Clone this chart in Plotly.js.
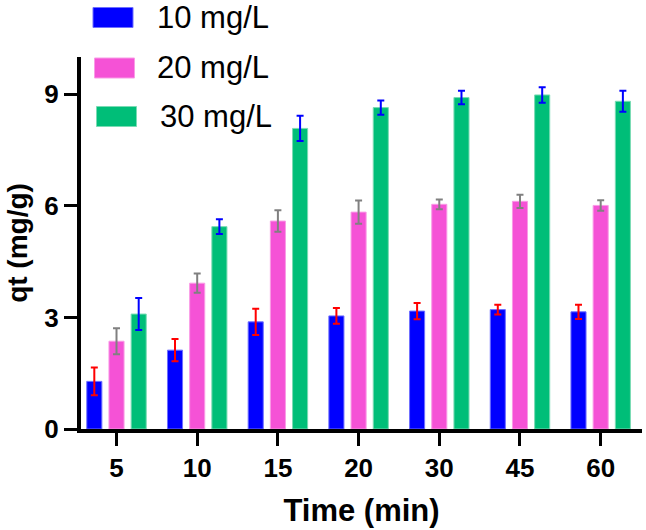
<!DOCTYPE html>
<html>
<head>
<meta charset="utf-8">
<script src="https://cdn.plot.ly/plotly-3.0.1.min.js"></script>
<style>html,body{margin:0;padding:0;background:#fff}#chart{width:646px;height:530px}</style>
</head>
<body>
<div id="chart"></div>
<script>
// ---- data ----
var categories = ["5", "10", "15", "20", "30", "45", "60"];
var seriesNames = ["10 mg/L", "20 mg/L", "30 mg/L"];
var values10 = [1.28, 2.12, 2.88, 3.04, 3.17, 3.21, 3.15];
var errors10 = [0.37, 0.30, 0.35, 0.21, 0.22, 0.13, 0.19];
var values20 = [2.36, 3.92, 5.59, 5.83, 6.04, 6.12, 6.01];
var errors20 = [0.35, 0.26, 0.29, 0.31, 0.13, 0.18, 0.14];
var values30 = [3.09, 5.44, 8.08, 8.64, 8.91, 8.98, 8.81];
var errors30 = [0.43, 0.20, 0.34, 0.19, 0.18, 0.21, 0.28];
var yTickVals = [0, 3, 6, 9];

// ---- style ----
var barColors = ["#0000FF", "#F552D6", "#00BE78"];
var barEdge = ["#6F6FFF", "#F99BE6", "#7ADBB4"];
var errColors = ["#FF0000", "#808080", "#0000FF"];
var FONT = "Arial, 'Liberation Sans', sans-serif";

var allVals = [values10, values20, values30];
var allErrs = [errors10, errors20, errors30];

var traces = allVals.map(function (v, i) {
  return {
    type: "bar",
    name: seriesNames[i],
    x: categories,
    y: v,
    marker: { color: barColors[i], line: { color: barEdge[i], width: 1 } },
    error_y: { type: "data", array: allErrs[i], visible: true, color: errColors[i], thickness: 2, width: 3.5 },
    showlegend: false
  };
});

// plot area in pixels
var L = 81, R = 4, T = 57, B = 101, Wd = 646, Ht = 530;
var PW = Wd - L - R, PH = Ht - T - B;
function px(p) { return (p - L) / PW; }
function py(p) { return (Ht - B - p) / PH; }

// legend drawn as boxes + labels
var legendRows = [
  { x0: 93, x1: 133, y0: 7.5, y1: 27.5, tx: 155 },
  { x0: 94.5, x1: 134.5, y0: 58, y1: 78, tx: 155 },
  { x0: 96.5, x1: 136.5, y0: 106.5, y1: 126.5, tx: 158 }
];
var shapes = [], annotations = [];
legendRows.forEach(function (r, i) {
  shapes.push({
    type: "rect", xref: "paper", yref: "paper",
    x0: px(r.x0), x1: px(r.x1), y0: py(r.y1), y1: py(r.y0),
    fillcolor: barColors[i], line: { color: barEdge[i], width: 1 }, layer: "above"
  });
  annotations.push({
    xref: "paper", yref: "paper", x: px(r.tx), y: py((r.y0 + r.y1) / 2),
    xanchor: "left", yanchor: "middle", showarrow: false,
    text: seriesNames[i], font: { family: FONT, size: 31, color: "#000" }
  });
});

var layout = {
  width: Wd, height: Ht,
  margin: { l: L, r: R, t: T, b: B, pad: 0 },
  paper_bgcolor: "#fff", plot_bgcolor: "#fff",
  barmode: "group", bargap: 0.175, bargroupgap: 0.32,
  showlegend: false,
  font: { family: FONT, color: "#000" },
  xaxis: {
    type: "category",
    range: [-0.44, 6.512],
    showline: true, linecolor: "#000", linewidth: 4,
    ticks: "outside", ticklen: 13, tickwidth: 3, tickcolor: "#000",
    showgrid: false, zeroline: false,
    tickfont: { family: FONT, size: 26, weight: "bold", color: "#000" },
    title: { text: "Time (min)", font: { family: FONT, size: 31, weight: "bold", color: "#000" }, standoff: 18 },
    automargin: false
  },
  yaxis: {
    range: [0, 10],
    tickvals: yTickVals,
    showline: true, linecolor: "#000", linewidth: 4,
    ticks: "outside", ticklen: 13, tickwidth: 3, tickcolor: "#000",
    showgrid: false, zeroline: false,
    tickfont: { family: FONT, size: 26, weight: "bold", color: "#000" },
    title: { text: "qt (mg/g)", font: { family: FONT, size: 28, weight: "bold", color: "#000" }, standoff: 10 },
    automargin: false
  },
  shapes: shapes,
  annotations: annotations
};

Plotly.newPlot("chart", traces, layout, { displayModeBar: false, staticPlot: true });
</script>
</body>
</html>
